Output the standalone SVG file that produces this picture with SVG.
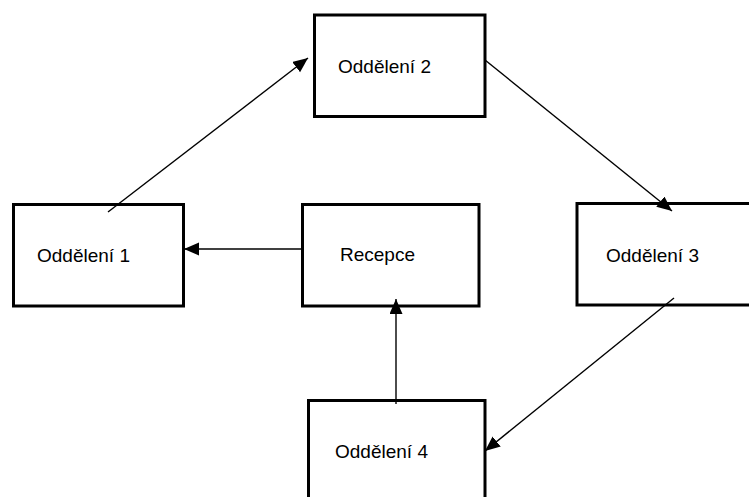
<svg xmlns="http://www.w3.org/2000/svg" width="749" height="497" viewBox="0 0 749 497">
  <style>
    .box { fill: #ffffff; stroke: #000000; stroke-width: 3; }
    .label { font-family: "Liberation Sans", Arial, sans-serif; font-size: 19px; fill: #000000; }
    .link { fill: none; stroke: #000000; stroke-width: 1.4; marker-end: url(#arrow); }
  </style>
  <defs>
    <marker id="arrow" markerUnits="userSpaceOnUse" markerWidth="16" markerHeight="14" refX="15" refY="6.5" orient="auto">
      <path d="M0,0 L15,6.5 L0,13 z" fill="#000000"/>
    </marker>
  </defs>
  <rect width="749" height="497" fill="#ffffff"/>

  <g id="oddeleni-2">
    <rect class="box" x="314.5" y="15" width="170.5" height="101.5"/>
    <text class="label" x="338" y="72.5">Oddělení 2</text>
  </g>
  <g id="oddeleni-1">
    <rect class="box" x="13.5" y="204.5" width="170" height="101.5"/>
    <text class="label" x="37" y="261.5">Oddělení 1</text>
  </g>
  <g id="recepce">
    <rect class="box" x="302.5" y="204.5" width="176.5" height="101.5"/>
    <text class="label" x="340" y="261">Recepce</text>
  </g>
  <g id="oddeleni-3">
    <rect class="box" x="577" y="203.5" width="180" height="101.5"/>
    <text class="label" x="606" y="261.5">Oddělení 3</text>
  </g>
  <g id="oddeleni-4">
    <rect class="box" x="308.5" y="400.5" width="176.5" height="110"/>
    <text class="label" x="335" y="458">Oddělení 4</text>
  </g>

  <g id="connectors">
    <line class="link" x1="108" y1="212" x2="308" y2="58"/>
    <line class="link" x1="485" y1="60" x2="672" y2="211"/>
    <line class="link" x1="674" y1="298" x2="485" y2="451"/>
    <line class="link" x1="396" y1="404" x2="396" y2="299"/>
    <line class="link" x1="302" y1="249" x2="184" y2="249"/>
  </g>
</svg>
